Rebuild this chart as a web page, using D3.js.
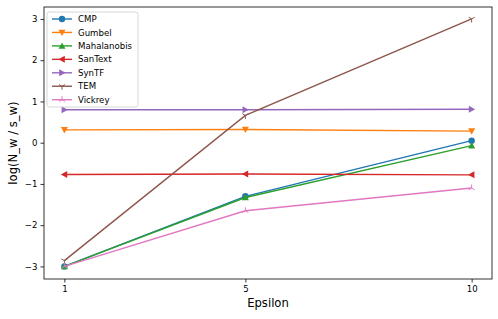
<!DOCTYPE html>
<html>
<head>
<meta charset="utf-8">
<script src="https://cdn.jsdelivr.net/npm/d3@7"></script>
<style>
  body { margin: 0; background: #fff; }
  text { font-family: "DejaVu Sans", sans-serif; }
</style>
</head>
<body>
<svg width="498" height="319"></svg>
<script>
// data
const epsilons = [1, 5, 10];
const seriesNames = ["CMP", "Gumbel", "Mahalanobis", "SanText", "SynTF", "TEM", "Vickrey"];
const cmpValues = [-3.0, -1.30, 0.05];
const gumbelValues = [0.31, 0.32, 0.28];
const mahalanobisValues = [-3.0, -1.33, -0.07];
const santextValues = [-0.77, -0.76, -0.78];
const syntfValues = [0.80, 0.80, 0.81];
const temValues = [-2.86, 0.66, 3.0];
const vickreyValues = [-3.0, -1.65, -1.10];
const yTicks = [-3, -2, -1, 0, 1, 2, 3];

const colors = ["#1f77b4", "#ff7f0e", "#2ca02c", "#d62728", "#9467bd", "#8c564b", "#e377c2"];
const markers = ["circle", "down", "up", "left", "right", "tri_down", "tri_up"];
const allValues = [cmpValues, gumbelValues, mahalanobisValues, santextValues, syntfValues, temValues, vickreyValues];

const series = seriesNames.map((name, i) => ({
    name: name,
    color: colors[i],
    marker: markers[i],
    points: epsilons.map((e, j) => ({ x: e, y: allValues[i][j] }))
}));

const margin = { top: 7, right: 6, bottom: 40, left: 44 };
const width = 498 - margin.left - margin.right;
const height = 319 - margin.top - margin.bottom;

const svg = d3.select("svg")
    .append("g")
    .attr("transform", `translate(${margin.left},${margin.top})`);

const x = d3.scaleLinear().domain([0.55, 10.45]).range([0, width]);
const y = d3.scaleLinear().domain([-3.305, 3.29]).range([height, 0]);

// marker shapes in the matplotlib style
function markerPath(type, s) {
    const r = s / 2;
    switch (type) {
        case "down": return `M${-r},${-r * 0.8}L${r},${-r * 0.8}L0,${r}Z`;
        case "up": return `M${-r},${r * 0.8}L${r},${r * 0.8}L0,${-r}Z`;
        case "left": return `M${r * 0.8},${-r}L${r * 0.8},${r}L${-r},0Z`;
        case "right": return `M${-r * 0.8},${-r}L${-r * 0.8},${r}L${r},0Z`;
        case "tri_down": return `M0,0L0,${r}M0,0L${-r * 0.87},${-r * 0.5}M0,0L${r * 0.87},${-r * 0.5}`;
        case "tri_up": return `M0,0L0,${-r}M0,0L${-r * 0.87},${r * 0.5}M0,0L${r * 0.87},${r * 0.5}`;
    }
    return "";
}

function drawMarker(g, type, color, cx, cy, s) {
    if (type === "circle") {
        g.append("circle").attr("cx", cx).attr("cy", cy).attr("r", s / 2 - 0.3).attr("fill", color);
    } else if (type.startsWith("tri")) {
        g.append("path").attr("transform", `translate(${cx},${cy})`)
            .attr("d", markerPath(type, s)).attr("stroke", color).attr("stroke-width", 1).attr("fill", "none");
    } else {
        g.append("path").attr("transform", `translate(${cx},${cy})`)
            .attr("d", markerPath(type, s)).attr("fill", color);
    }
}

// axes
const xAxis = svg.append("g")
    .attr("transform", `translate(0,${height})`)
    .call(d3.axisBottom(x).tickValues(epsilons).tickSizeOuter(0).tickSize(3.5).tickPadding(3));
const yAxis = svg.append("g")
    .call(d3.axisLeft(y).tickValues(yTicks).tickFormat(d => d < 0 ? "\u2212" + Math.abs(d) : d).tickSizeOuter(0).tickSize(3.5).tickPadding(3));
[xAxis, yAxis].forEach(a => {
    a.select(".domain").remove();
    a.selectAll("line").attr("stroke", "#000").attr("stroke-width", 0.8);
    a.selectAll("text").style("font-size", "8.6px").attr("fill", "#000");
});

// lines
const line = d3.line().x(d => x(d.x)).y(d => y(d.y));
series.forEach(s => {
    const g = svg.append("g");
    g.append("path")
        .datum(s.points)
        .attr("d", line)
        .attr("fill", "none")
        .attr("stroke", s.color)
        .attr("stroke-width", 1.4);
    s.points.forEach(p => drawMarker(g, s.marker, s.color, x(p.x), y(p.y), 7));
});

// frame
svg.append("rect")
    .attr("width", width).attr("height", height)
    .attr("fill", "none").attr("stroke", "#000").attr("stroke-width", 0.8);

// axis labels
svg.append("text")
    .attr("x", width / 2).attr("y", height + 27.5)
    .attr("text-anchor", "middle")
    .style("font-size", "11.6px")
    .text("Epsilon");
svg.append("text")
    .attr("transform", `translate(${-27},${height / 2}) rotate(-90)`)
    .attr("text-anchor", "middle")
    .style("font-size", "11.6px")
    .text("log(N_w / s_w)");

// legend
const legend = svg.append("g").attr("transform", "translate(3,5)");
legend.append("rect")
    .attr("width", 91).attr("height", 95)
    .attr("rx", 2.5)
    .attr("fill", "#fff").attr("fill-opacity", 0.8)
    .attr("stroke", "#ccc").attr("stroke-width", 0.8);
series.forEach((s, i) => {
    const ly = 7 + i * 13.45;
    const g = legend.append("g");
    g.append("line")
        .attr("x1", 5).attr("x2", 25).attr("y1", ly).attr("y2", ly)
        .attr("stroke", s.color).attr("stroke-width", 1.4);
    drawMarker(g, s.marker, s.color, 15, ly, 7);
    g.append("text")
        .attr("x", 31).attr("y", ly + 3.1)
        .style("font-size", "8.6px")
        .attr("fill", "#000")
        .text(s.name);
});
</script>
</body>
</html>
